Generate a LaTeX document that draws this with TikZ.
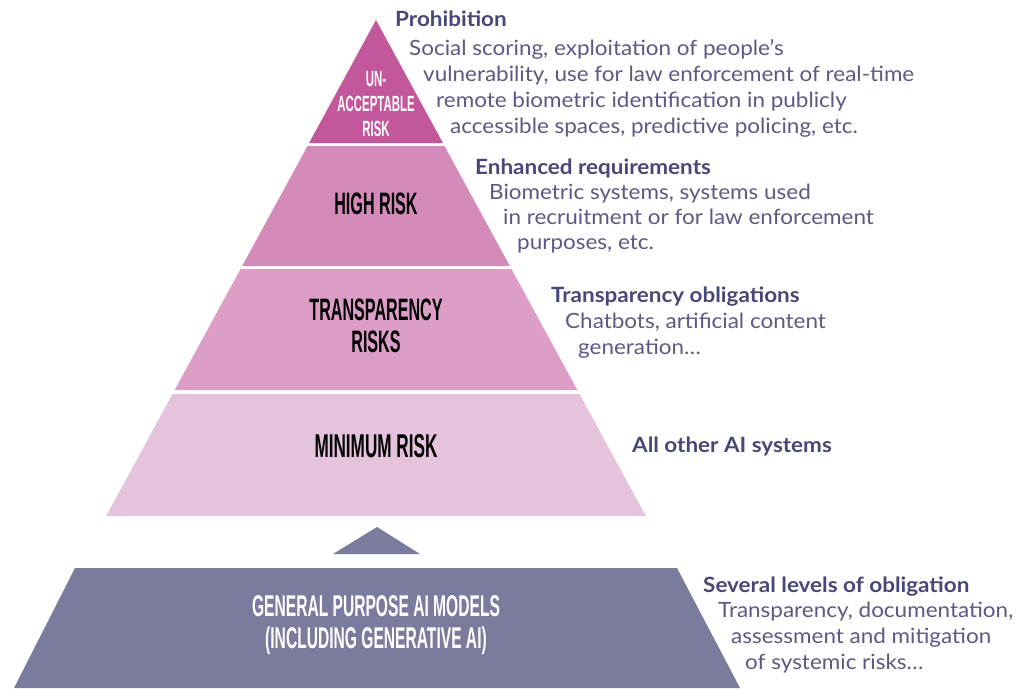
\documentclass[tikz,border=0pt]{standalone}
\usepackage{fontspec}
\setmainfont[FakeStretch=1.07]{Lato}
\newfontfamily\condfont[FakeStretch=0.52]{Liberation Sans}
\definecolor{cUnacc}{HTML}{C3579B}
\definecolor{cHigh}{HTML}{D58BBA}
\definecolor{cTrans}{HTML}{DC9EC7}
\definecolor{cMin}{HTML}{E6C3DD}
\definecolor{cGpai}{HTML}{7B7B9E}
\definecolor{cHead}{HTML}{474778}
\definecolor{cBody}{HTML}{5A5A85}
\tikzset{
  lvl/.style={font=\condfont\bfseries\fontsize{31}{32}\selectfont, align=center, text=black, inner sep=0pt},
  lvlw/.style={lvl, text=white},
  head/.style={anchor=base west, inner sep=0pt, font=\bfseries\fontsize{21}{24}\selectfont, text=cHead},
  body/.style={anchor=base west, inner sep=0pt, font=\fontsize{21}{24}\selectfont, text=cBody},
}
\begin{document}
\begin{tikzpicture}[x=1pt,y=-1pt]
\useasboundingbox[fill=white] (0,0) rectangle (1027,688);
% pyramid bands
\fill[cUnacc] (376,20) -- (309.1,143) -- (442.9,143) -- cycle;
\fill[cHigh] (307.5,146) -- (444.5,146) -- (509.8,266) -- (242.2,266) -- cycle;
\fill[cTrans] (240.5,269) -- (511.5,269) -- (577.3,390) -- (174.7,390) -- cycle;
\fill[cMin] (172.5,394) -- (579.5,394) -- (645.8,516) -- (106.2,516) -- cycle;
% small arrow triangle
\fill[cGpai] (377,527) -- (420,554) -- (333,554) -- cycle;
% bottom trapezoid
\fill[cGpai] (75,568) -- (677,568) -- (740,688) -- (14,688) -- cycle;
% level labels
\node[lvlw, font=\condfont\bfseries\fontsize{22}{25}\selectfont] (unacc) at (376,104) {UN-\\ACCEPTABLE\\RISK};
\node[lvl] (high) at (376,204) {HIGH RISK};
\node[lvl] (trans) at (376,326) {TRANSPARENCY\\RISKS};
\node[lvl, font=\condfont\bfseries\fontsize{33}{32}\selectfont] (min) at (376,446) {MINIMUM RISK};
\node[lvlw, font=\condfont\bfseries\fontsize{30}{32}\selectfont] (gpai) at (376,625) {GENERAL PURPOSE AI MODELS\\(INCLUDING GENERATIVE AI)};
% right texts
\node[head] (h1) at (395,27) {Prohibition};
\node[body] (b11) at (409,55) {Social scoring, exploitation of people’s};
\node[body] (b12) at (423,81) {vulnerability, use for law enforcement of real-time};
\node[body] (b13) at (436,107) {remote biometric identification in publicly};
\node[body] (b14) at (450,133) {accessible spaces, predictive policing, etc.};
\node[head] (h2) at (475,174) {Enhanced requirements};
\node[body] (b21) at (489,199) {Biometric systems, systems used};
\node[body] (b22) at (503,224) {in recruitment or for law enforcement};
\node[body] (b23) at (517,249) {purposes, etc.};
\node[head] (h3) at (551,302) {Transparency obligations};
\node[body] (b31) at (565,328) {Chatbots, artificial content};
\node[body] (b32) at (578,354) {generation…};
\node[head] (h4) at (632,452) {All other AI systems};
\node[head] (h5) at (703,592) {Several levels of obligation};
\node[body] (b51) at (718,617) {Transparency, documentation,};
\node[body] (b52) at (731,643) {assessment and mitigation};
\node[body] (b53) at (745,669) {of systemic risks…};
\end{tikzpicture}
\end{document}
